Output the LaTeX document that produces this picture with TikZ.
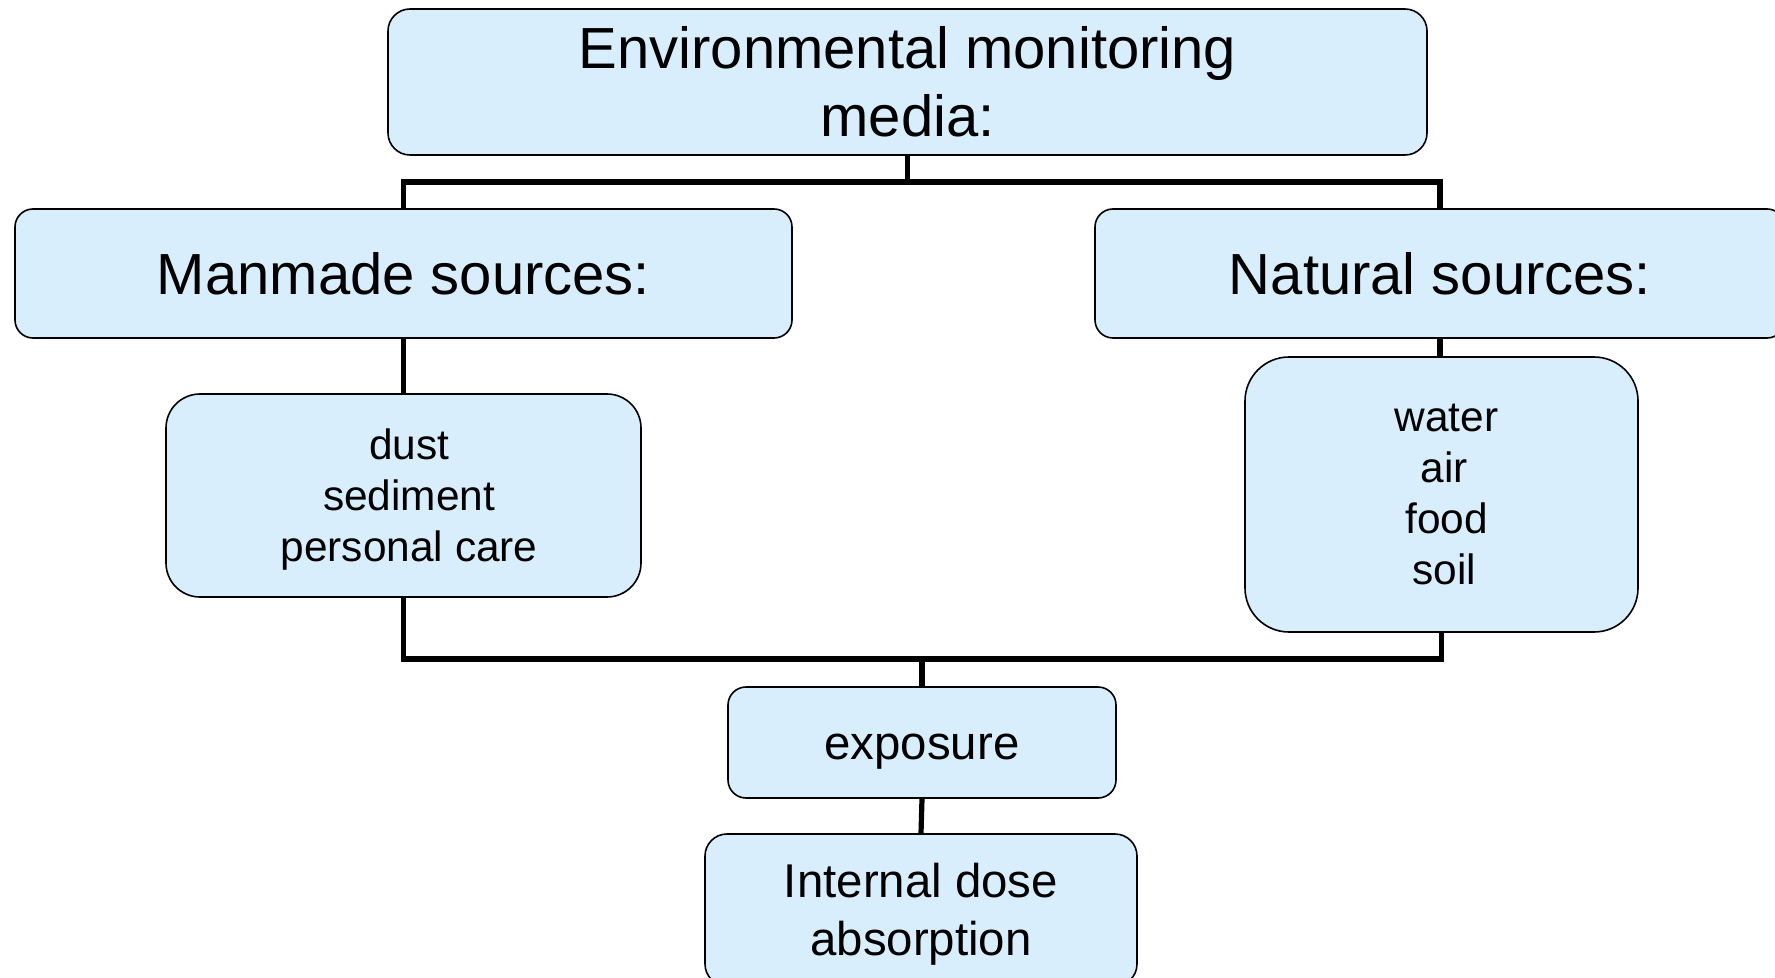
\documentclass[tikz,border=0pt]{standalone}
\usepackage{fontspec}
\setmainfont{Liberation Sans}
\definecolor{boxfill}{RGB}{217,238,252}
\begin{document}
\begin{tikzpicture}[x=0.5pt,y=-0.5pt,
  box/.style={draw=black, line width=0.8pt, fill=boxfill, rounded corners=#1, inner sep=0pt, align=center},
  box/.default=9pt,
  conn/.style={line width=2.6pt, line join=miter},
  big/.style={font=\fontsize{29pt}{34pt}\selectfont},
  small/.style={font=\fontsize{21.2pt}{25.5pt}\selectfont},
  mid/.style={font=\fontsize{23.7pt}{29pt}\selectfont}]
\useasboundingbox (0,0) rectangle (1775,978);
\clip (0,0) rectangle (1775,978);
\fill[white] (0,0) rectangle (1775,978);
\coordinate (j1) at (907.5,182);
\coordinate (j2) at (922,659);
% nodes
\node[box=11pt, big, minimum width=519.5pt, minimum height=73pt] (top) at (907.5,82) {Environmental monitoring\\media:};
\node[box=9pt, big, minimum width=388.5pt, minimum height=64.5pt] (man) at (403.5,273.5) {Manmade sources:};
\node[box=9pt, big, minimum width=345pt, minimum height=64.5pt] (nat) at (1440,273.5) {Natural sources:};
\node[box=17pt, small, minimum width=237.5pt, minimum height=101.5pt, text depth=0pt] (dust) at (403.5,495.5) {\hspace*{5.6pt}dust\\\hspace*{5.6pt}sediment\\\hspace*{5.6pt}personal care};
\node[box=22pt, small, minimum width=196.5pt, minimum height=137.5pt] (water) at (1441.5,494.5) {\hspace*{5pt}water\\\hspace*{3pt}air\\\hspace*{5pt}food\\\hspace*{3pt}soil};
\node[box=9pt, mid, minimum width=194pt, minimum height=55.5pt] (expo) at (922,742.5) {\raisebox{-5pt}[12.3pt][4.9pt]{exposure}};
\node[box=11pt, mid, minimum width=216pt, minimum height=76pt, text depth=0.8pt] (dose) at (921,910) {Internal dose\\absorption};
% connectors
\draw[conn] (top.south) -- (j1);
\draw[conn] (man.north) |- (j1) -| (nat.north);
\draw[conn] (man.south) -- (dust.north);
\draw[conn] (nat.south) -- (nat.south |- water.north);
\draw[conn] (dust.south) |- (j2) -| (water.south);
\draw[conn] (j2) -- (expo.north);
\draw[conn] (expo.south) -- (dose.north);
\end{tikzpicture}
\end{document}
